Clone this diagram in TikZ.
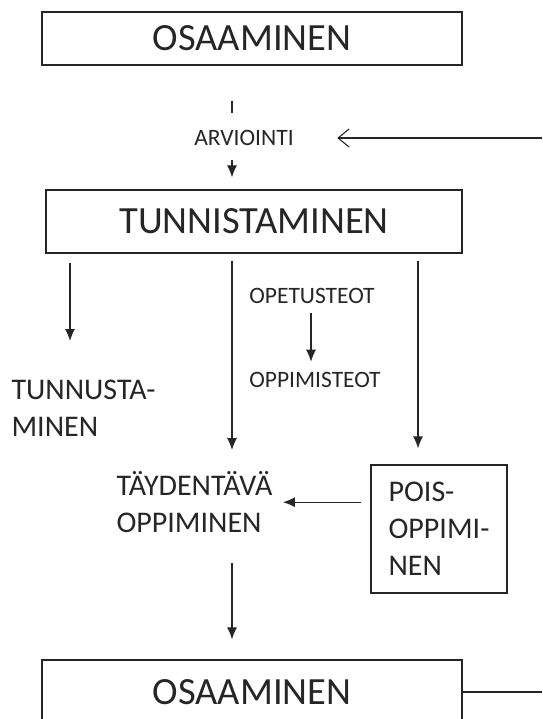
\documentclass[tikz,border=0pt]{standalone}
\usepackage{fontspec}
\setmainfont{Carlito}
\usetikzlibrary{arrows.meta}

\tikzset{
  box/.style={draw, line width=1.3pt, inner sep=0pt, font=\fontsize{38.5}{42}\selectfont},
  txt/.style={inner sep=0pt, align=left, font=\fontsize{30}{37}\selectfont},
  small/.style={inner sep=0pt, font=\fontsize{23.5}{26}\selectfont},
}

\begin{document}
\begin{tikzpicture}[x=1pt, y=-1pt, >={Latex[length=12pt,width=10pt]}, line width=1.1pt, color=black!85]
  \useasboundingbox (0,0) rectangle (542,719);
  % laatikot
  \node[box, minimum width=420, minimum height=53] (osa1) at (252,38.5) {OSAAMINEN};
  \node[box, minimum width=416, minimum height=63] (tunn) at (254,221.5) {TUNNISTAMINEN};
  \node[box, minimum width=420, minimum height=64] (osa2) at (252,692) {OSAAMINEN};
  \node[txt, draw, line width=1.3pt, minimum width=136, minimum height=128] (pois) at (439,529) {POIS-\\OPPIMI-\\NEN};
  % tekstit
  \node[small] (arvio) at (244,138) {ARVIOINTI};
  \node[small] (opet) at (312,296) {OPETUSTEOT};
  \node[small] (oppim) at (315,380) {OPPIMISTEOT};
  \node[txt, anchor=north west] (tunnus) at (11,379) {TUNNUSTA-\\MINEN};
  \node[txt, anchor=north west] (tayd) at (116,471) {TÄYDENTÄVÄ\\OPPIMINEN};
  % sarakkeet
  \coordinate (colA) at (70,0);
  \coordinate (colB) at (232,0);
  \coordinate (colC) at (311,0);
  \coordinate (colD) at (418,0);
  \coordinate (paluu) at (542,0);
  % nuolet
  \draw[shorten <=35pt, shorten >=17pt] (osa1.south -| colB) -- (arvio.north -| colB);
  \draw[->, shorten <=14pt, shorten >=12pt] (arvio.south -| colB) -- (tunn.north -| colB);
  \draw[-{Straight Barb[length=11pt,width=18pt]}, shorten >=43pt] (paluu |- arvio.east) -- (arvio.east);
  \draw[->, shorten <=9pt, shorten >=38pt] (tunn.south -| colA) -- (tunnus.north -| colA);
  \draw[->, shorten <=7pt, shorten >=21pt] (tunn.south -| colB) -- (tayd.north -| colB);
  \draw[->, shorten <=7pt, shorten >=16pt] (tunn.south -| colD) -- (pois.north -| colD);
  \draw[->, shorten <=9pt, shorten >=10pt] (opet.south -| colC) -- (oppim.north -| colC);
  \draw[->, shorten <=9pt, shorten >=10pt] (pois.west |- tayd.east) -- (tayd.east);
  \draw[->, shorten <=30pt, shorten >=20pt] (tayd.south -| colB) -- (osa2.north -| colB);
  \draw (osa2.east) -- (paluu |- osa2.east);
\end{tikzpicture}
\end{document}
